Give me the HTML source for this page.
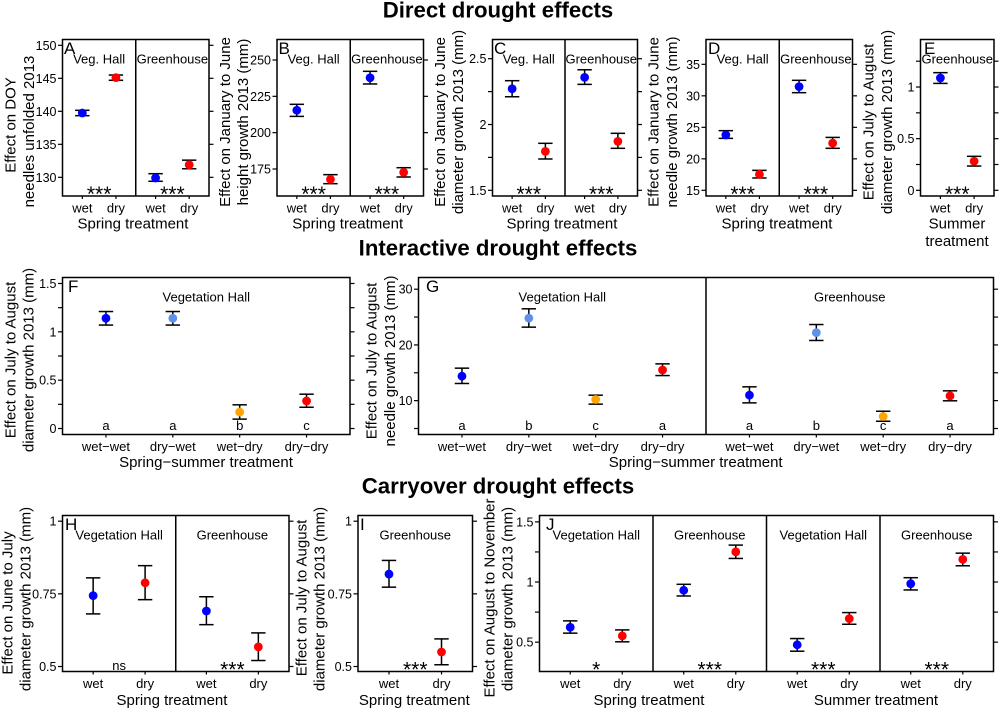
<!DOCTYPE html>
<html lang="en">
<head>
<meta charset="utf-8">
<title>Drought effects</title>
<style>
html,body{margin:0;padding:0;background:#fff;}
svg{display:block;}
text{font-family:"Liberation Sans",Arial,sans-serif;fill:#000;}
.title{font-size:22.2px;font-weight:bold;text-anchor:middle;}
.axt{font-size:15px;text-anchor:middle;}
.let{font-size:17px;}
</style>
</head>
<body>
<svg id="chart" xmlns="http://www.w3.org/2000/svg" width="1000" height="709" viewBox="0 0 1000 709">
<rect x="0" y="0" width="1000" height="709" fill="#fff"/>
<text class="title" x="498" y="17.300">Direct drought effects</text>
<text class="title" x="498" y="255.500">Interactive drought effects</text>
<text class="title" x="498" y="493.300">Carryover drought effects</text>

<g>
<text class="axt" transform="translate(15.5,125) rotate(-90)">Effect on DOY</text>
<text class="axt" transform="translate(34,131.5) rotate(-90)">needles unfolded 2013</text>
<text class="axt" transform="translate(230,122) rotate(-90)">Effect on January to June</text>
<text class="axt" transform="translate(248,122) rotate(-90)">height growth 2013 (mm)</text>
<text class="axt" transform="translate(445,122) rotate(-90)">Effect on January to June</text>
<text class="axt" transform="translate(463,122) rotate(-90)">diameter growth 2013 (mm)</text>
<text class="axt" transform="translate(658.500,122) rotate(-90)">Effect on January to June</text>
<text class="axt" transform="translate(677,122) rotate(-90)">needle growth 2013 (mm)</text>
<text class="axt" transform="translate(873.500,122) rotate(-90)">Effect on July to August</text>
<text class="axt" transform="translate(892,122) rotate(-90)">diameter growth 2013 (mm)</text>
<text class="axt" transform="translate(15.5,360) rotate(-90)">Effect on July to August</text>
<text class="axt" transform="translate(33.500,360) rotate(-90)">diameter growth 2013 (mm)</text>
<text class="axt" transform="translate(376.500,361) rotate(-90)">Effect on July to August</text>
<text class="axt" transform="translate(395,361) rotate(-90)">needle growth 2013 (mm)</text>
<text class="axt" transform="translate(12.5,603) rotate(-90)">Effect on June to July</text>
<text class="axt" transform="translate(30.500,599) rotate(-90)">diameter growth 2013 (mm)</text>
<text class="axt" transform="translate(306.500,598) rotate(-90)">Effect on July to August</text>
<text class="axt" transform="translate(324.500,599) rotate(-90)">diameter growth 2013 (mm)</text>
<text class="axt" transform="translate(494.500,598) rotate(-90)">Effect on August to November</text>
<text class="axt" transform="translate(512.500,599) rotate(-90)">diameter growth 2013 (mm)</text>
</g>

<g>
<text class="axt" x="133" y="228.500">Spring treatment</text>
<text class="axt" x="347.700" y="228.500">Spring treatment</text>
<text class="axt" x="562" y="228.500">Spring treatment</text>
<text class="axt" x="777" y="228.500">Spring treatment</text>
<text class="axt" x="957" y="228.500">Summer</text>
<text class="axt" x="957" y="246">treatment</text>
<text class="axt" x="206" y="467">Spring−summer treatment</text>
<text class="axt" x="695.700" y="467">Spring−summer treatment</text>
<text class="axt" x="172" y="705">Spring treatment</text>
<text class="axt" x="414.300" y="705">Spring treatment</text>
<text class="axt" x="649" y="705">Spring treatment</text>
<text class="axt" x="876" y="705">Summer treatment</text>
</g>
</svg>

<script>
// ---- Chart data ----
const springCategories = ['wet', 'dry'];
const interactionCategories = ['wet\u2212wet', 'dry\u2212wet', 'wet\u2212dry', 'dry\u2212dry'];

const aMeans = [139.75, 145.1, 129.9, 131.9];
const aLower = [139.34, 144.7, 129.4, 131.3];
const aUpper = [140.15, 145.5, 130.55, 132.6];
const aTicks = [130, 135, 140, 145, 150];
const aTickLabels = ['130', '135', '140', '145', '150'];

const bMeans = [215.4, 167.9, 237.8, 172.7];
const bLower = [211.2, 164.9, 233.5, 169.5];
const bUpper = [219.5, 171.1, 242.2, 175.9];
const bTicks = [175, 200, 225, 250];
const bTickLabels = ['175', '200', '225', '250'];

const cMeans = [2.272, 1.796, 2.358, 1.872];
const cLower = [2.211, 1.738, 2.305, 1.819];
const cUpper = [2.333, 1.857, 2.416, 1.933];
const cTicks = [1.5, 1.75, 2, 2.25, 2.5];
const cTickLabels = ['1.5', '', '2', '', '2.5'];

const dMeans = [23.78, 17.54, 31.46, 22.5];
const dLower = [23.25, 16.96, 30.5, 21.67];
const dUpper = [24.47, 18.17, 32.46, 23.4];
const dTicks = [15, 20, 25, 30, 35];
const dTickLabels = ['15', '20', '25', '30', '35'];

const eMeans = [1.087, 0.281];
const eLower = [1.035, 0.235];
const eUpper = [1.139, 0.329];
const eTicks = [0, 0.25, 0.5, 0.75, 1, 1.25];
const eTickLabels = ['0', '', '0.5', '', '1', ''];

const fMeans = [1.14, 1.14, 0.17, 0.285];
const fLower = [1.07, 1.07, 0.097, 0.22];
const fUpper = [1.21, 1.21, 0.245, 0.355];
const fLetters = ['a', 'a', 'b', 'c'];
const fTicks = [0, 0.25, 0.5, 0.75, 1, 1.25, 1.5];
const fTickLabels = ['0', '', '0.5', '', '1', '', '1.5'];

const gMeans = [14.39, 24.8, 10.2, 15.5, 10.98, 22.2, 7.15, 10.86];
const gLower = [13.08, 23.19, 9.37, 14.5, 9.6, 20.8, 6.3, 9.97];
const gUpper = [15.83, 26.48, 10.98, 16.6, 12.48, 23.66, 8.1, 11.76];
const gLetters = ['a', 'b', 'c', 'a', 'a', 'b', 'c', 'a'];
const gTicks = [5, 10, 15, 20, 25, 30];
const gTickLabels = ['', '10', '', '20', '', '30'];

const hMeans = [0.744, 0.788, 0.691, 0.5675];
const hLower = [0.681, 0.73, 0.644, 0.5206];
const hUpper = [0.805, 0.847, 0.74, 0.6156];
const hTicks = [0.5, 0.75, 1];
const hTickLabels = ['0.5', '0.75', '1'];

const iMeans = [0.818, 0.55];
const iLower = [0.773, 0.506];
const iUpper = [0.865, 0.595];
const iTicks = [0.5, 0.75, 1];
const iTickLabels = ['0.5', '0.75', '1'];

const jMeans = [0.624, 0.552, 0.931, 1.251, 0.478, 0.696, 0.986, 1.188];
const jLower = [0.575, 0.503, 0.884, 1.196, 0.425, 0.649, 0.934, 1.135];
const jUpper = [0.677, 0.602, 0.981, 1.307, 0.53, 0.746, 1.036, 1.24];
const jTicks = [0.5, 0.75, 1, 1.25, 1.5];
const jTickLabels = ['0.5', '', '1', '', '1.5'];

const BLUE = '#0000ff', RED = '#ff0000', LIGHTBLUE = '#5f90ea', ORANGE = '#ffa500';
const springColors = [BLUE, RED];
const interactionColors = [BLUE, LIGHTBLUE, ORANGE, RED];

// ---- Panel layout (frame geometry and axis domain only) ----
const panels = [
  {id:'a', letter:'A', lx:64,  frame:[62.5,39.5,209,196],    domain:[127.17,150.88], ticks:aTicks, labels:aTickLabels, means:aMeans, lower:aLower, upper:aUpper, cats:springCategories, colors:springColors, facets:['Veg. Hall','Greenhouse'], sig:['***','***']},
  {id:'b', letter:'B', lx:278.500, frame:[277,39.5,423.5,196], domain:[156.42,264.1], ticks:bTicks, labels:bTickLabels, means:bMeans, lower:bLower, upper:bUpper, cats:springCategories, colors:springColors, facets:['Veg. Hall','Greenhouse'], sig:['***','***']},
  {id:'c', letter:'C', lx:494, frame:[492.5,39.5,637.5,196], domain:[1.4567,2.646],  ticks:cTicks, labels:cTickLabels, means:cMeans, lower:cLower, upper:cUpper, cats:springCategories, colors:springColors, facets:['Veg. Hall','Greenhouse'], sig:['***','***']},
  {id:'d', letter:'D', lx:708, frame:[706,39.5,852.5,196],   domain:[14.1,38.94],    ticks:dTicks, labels:dTickLabels, means:dMeans, lower:dLower, upper:dUpper, cats:springCategories, colors:springColors, facets:['Veg. Hall','Greenhouse'], sig:['***','***']},
  {id:'e', letter:'E', lx:924, frame:[920.5,39.5,994,196],   domain:[-0.055,1.46],   ticks:eTicks, labels:eTickLabels, means:eMeans, lower:eLower, upper:eUpper, cats:springCategories, colors:springColors, facets:['Greenhouse'], sig:['***']},
  {id:'f', letter:'F', lx:68,  frame:[62.5,277.5,350,434.5], domain:[-0.062,1.562],  ticks:fTicks, labels:fTickLabels, means:fMeans, lower:fLower, upper:fUpper, cats:interactionCategories, colors:interactionColors, facets:['Vegetation Hall'], letters:fLetters},
  {id:'g', letter:'G', lx:426, frame:[418.5,277.5,993.5,434.5], domain:[3.923,32.1], ticks:gTicks, labels:gTickLabels, means:gMeans, lower:gLower, upper:gUpper, cats:interactionCategories, colors:interactionColors, facets:['Vegetation Hall','Greenhouse'], letters:gLetters},
  {id:'h', letter:'H', lx:65,  frame:[62.5,515.5,289,671.5], domain:[0.4828,1.0196], ticks:hTicks, labels:hTickLabels, means:hMeans, lower:hLower, upper:hUpper, cats:springCategories, colors:springColors, facets:['Vegetation Hall','Greenhouse'], sig:['ns','***']},
  {id:'i', letter:'I', lx:360, frame:[358,515.5,472.5,671.5], domain:[0.4828,1.0196], ticks:iTicks, labels:iTickLabels, means:iMeans, lower:iLower, upper:iUpper, cats:springCategories, colors:springColors, facets:['Greenhouse'], sig:['***']},
  {id:'j', letter:'J', lx:546, frame:[539.5,515.5,993.5,671.5], domain:[0.2562,1.553], ticks:jTicks, labels:jTickLabels, means:jMeans, lower:jLower, upper:jUpper, cats:springCategories, colors:springColors, facets:['Vegetation Hall','Greenhouse','Vegetation Hall','Greenhouse'], sig:['*','***','***','***']}
];

const NS = 'http://www.w3.org/2000/svg';
const svg = document.getElementById('chart');

function addLine(parent, name, x1, y1, x2, y2, w) {
  const el = document.createElementNS(NS, 'line');
  
  
  el.setAttribute('x1', x1);
  el.setAttribute('y1', y1);
  el.setAttribute('x2', x2);
  el.setAttribute('y2', y2);
  el.setAttribute('stroke', '#000');
  el.setAttribute('stroke-width', w);
  parent.appendChild(el);
  return el;
}
function addText(parent, name, str, x, y, size, anchor) {
  const el = document.createElementNS(NS, 'text');
  
  
  el.setAttribute('x', x);
  el.setAttribute('y', y);
  el.setAttribute('font-size', size);
  el.setAttribute('text-anchor', anchor);
  el.textContent = str;
  parent.appendChild(el);
  return el;
}

panels.forEach(function (p) {
  const g = document.createElementNS(NS, 'g');
  
  
  svg.appendChild(g);

  const left = p.frame[0], top = p.frame[1], right = p.frame[2], bottom = p.frame[3];
  const yScale = function (v) {
    return bottom - (v - p.domain[0]) / (p.domain[1] - p.domain[0]) * (bottom - top);
  };
  const nFacets = p.facets.length;
  const facetW = (right - left) / nFacets;
  const n = p.cats.length;
  const pad = n === 2 ? 0.59 : 0.65;
  const xScale = function (facet, i) {
    return left + facetW * facet + facetW * (pad + i) / (n - 1 + 2 * pad);
  };

  // frame and facet dividers
  const frame = document.createElementNS(NS, 'rect');
  
  
  frame.setAttribute('x', left);
  frame.setAttribute('y', top);
  frame.setAttribute('width', right - left);
  frame.setAttribute('height', bottom - top);
  frame.setAttribute('fill', 'none');
  frame.setAttribute('stroke', '#000');
  frame.setAttribute('stroke-width', 1.5);
  g.appendChild(frame);
  for (let k = 1; k < nFacets; k++) {
    addLine(g, 'facet-divider', left + facetW * k, top, left + facetW * k, bottom, 1.5);
  }

  // y ticks, both sides
  p.ticks.forEach(function (t, k) {
    const y = yScale(t);
    addLine(g, 'y-tick-left', left - 4.5, y, left, y, 1.2);
    addLine(g, 'y-tick-right', right, y, right + 4.5, y, 1.2);
    if (p.labels[k]) {
      addText(g, 'y-tick-label', p.labels[k], left - 6, y + 4.5, 12.5, 'end');
    }
  });

  // panel letter
  addText(g, 'panel-letter', p.letter, p.lx, top + 14.5, 17, 'start');

  // facets
  p.facets.forEach(function (label, f) {
    const fc = left + facetW * (f + 0.5);
    addText(g, 'facet-label', label, fc, top + 24, 13, 'middle');
    if (p.sig) {
      const s = p.sig[f];
      if (s === 'ns') {
        addText(g, 'significance-label', s, fc, bottom - 1.5, 13, 'middle');
      } else {
        addText(g, 'significance-label', s, fc, bottom + 5, 21, 'middle');
      }
    }
    p.cats.forEach(function (cat, i) {
      const x = xScale(f, i);
      addLine(g, 'x-tick', x, bottom, x, bottom + 3, 1.2);
      addText(g, 'x-tick-label', cat, x, bottom + 16.5, 13, 'middle');
    });
  });

  // marks
  p.means.forEach(function (m, idx) {
    const f = Math.floor(idx / n);
    const i = idx % n;
    const x = xScale(f, i);
    const yL = yScale(p.lower[idx]);
    const yU = yScale(p.upper[idx]);
    addLine(g, 'error-bar-stem', x, yU, x, yL, 1.5);
    addLine(g, 'error-bar-cap-upper', x - 7.2, yU, x + 7.2, yU, 1.5);
    addLine(g, 'error-bar-cap-lower', x - 7.2, yL, x + 7.2, yL, 1.5);
    const dot = document.createElementNS(NS, 'circle');
    
    
    dot.setAttribute('cx', x);
    dot.setAttribute('cy', yScale(m));
    dot.setAttribute('r', 4.4);
    dot.setAttribute('fill', p.colors[i]);
    g.appendChild(dot);
    if (p.letters) {
      addText(g, 'group-letter', p.letters[idx], x, bottom - 4.5, 13, 'middle');
    }
  });
});
</script>
</body>
</html>
